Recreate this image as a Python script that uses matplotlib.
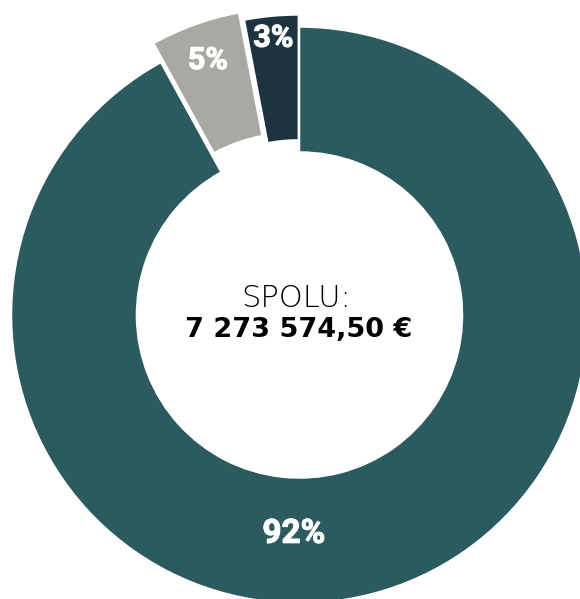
import matplotlib
matplotlib.use("Agg")
import numpy as np
import matplotlib.pyplot as plt
import matplotlib.patheffects as pe

# === DATA ===
shares = [92, 5, 3]
labels = ["92%", "5%", "3%"]
colors = ["#2b5b5e", "#a8a9a3", "#1d3340"]
pull_out = [0.0, 0.071, 0.042]
total_title = "SPOLU:"
total_value = "7 273 574,50 €"

# === LAYOUT ===
W, H, DPI = 580, 599, 100
R_PX = 288.0                 # outer radius in pixels
CX, CY = 299.5, 315.0        # pie centre (pixels from top-left)
HOLE = 0.566                 # inner / outer radius
label_r = [0.76, 0.87, 0.925] # label radius inside each wedge

plt.rcParams['font.family'] = ['Roboto', 'DejaVu Sans']

fig = plt.figure(figsize=(W / DPI, H / DPI), dpi=DPI)
ax = fig.add_axes([0, 0, 1, 1])

wedges, _ = ax.pie(shares, colors=colors, explode=pull_out, startangle=90,
                   counterclock=False, radius=1,
                   wedgeprops=dict(width=1 - HOLE, edgecolor="white", linewidth=1.1))

# labels on each wedge (thin stroke to make them a bit heavier)
thick = [pe.withStroke(linewidth=0.8, foreground="white")]
for i, w in enumerate(wedges):
    mid = np.deg2rad((w.theta1 + w.theta2) / 2)
    cx, cy = w.center
    if i == 0:
        mid = np.deg2rad(-91.5)   # big slice label sits at the bottom
    x = cx + label_r[i] * np.cos(mid)
    y = cy + label_r[i] * np.sin(mid)
    ax.text(x, y, labels[i], ha="center", va="center", color="white",
            fontsize=24 if i == 0 else 22, fontweight="bold",
            fontstyle="normal", path_effects=thick)

ax.text(-0.013, 0.029, total_title, ha="center", va="baseline",
        fontsize=22, fontweight="light", color="#000000",
        family=["DejaVu Sans"])
ax.text(-0.004, -0.075, total_value, ha="center", va="baseline",
        fontsize=19.5, fontweight="bold", color="#000000",
        family=["DejaVu Sans"])

# map data units to pixels: 1 unit = R_PX
ax.set_xlim(-CX / R_PX, (W - CX) / R_PX)
ax.set_ylim(-(H - CY) / R_PX, CY / R_PX)
ax.set_aspect("auto")
ax.axis("off")

fig.savefig("out.png", dpi=DPI, facecolor="white")
